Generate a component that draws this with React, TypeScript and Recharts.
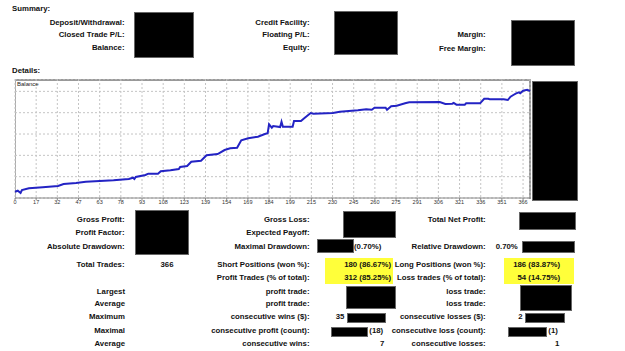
import { LineChart, Line, XAxis, YAxis, CartesianGrid } from 'recharts';

// balance curve (trade #, balance)
const trades = [0, 2, 4, 5, 10, 20, 31, 35, 44, 51, 61, 71, 82, 85, 86, 87, 94, 96, 103, 105, 112, 118, 119, 124, 127, 134, 138, 146, 151, 155, 160, 163, 168, 175, 180, 182, 183, 185, 186, 191, 192, 193, 200, 201, 206, 209, 213, 215, 229, 234, 247, 253, 257, 259, 267, 268, 271, 275, 281, 284, 306, 310, 315, 316, 318, 324, 325, 335, 338, 341, 342, 352, 355, 357, 359, 361, 363, 364, 366, 369, 370, 371];
const balance = [9295, 9342, 9234, 9375, 9455, 9502, 9563, 9656, 9703, 9764, 9797, 9830, 9891, 9952, 9890, 9984, 10078, 10139, 10139, 10252, 10299, 10360, 10453, 10500, 10702, 10749, 11002, 11063, 11250, 11330, 11358, 11705, 11799, 11874, 12000, 12033, 12455, 12296, 12375, 12328, 12577, 12343, 12343, 12610, 12610, 12774, 12985, 12952, 12985, 13046, 13111, 13158, 13140, 13233, 13233, 13140, 13299, 13327, 13440, 13486, 13500, 13407, 13421, 13454, 13374, 13374, 13440, 13440, 13655, 13655, 13627, 13627, 13594, 13749, 13829, 13908, 13955, 13908, 14030, 14077, 14049, 14016];

const xTickLabels = ['0', '17', '32', '47', '63', '78', '93', '108', '123', '139', '154', '169', '184', '199', '215', '230', '245', '260', '275', '291', '306', '321', '336', '351', '366'];
const yGridTicks = [10000, 11000, 12000, 13000, 14000];

const summaryLeft = ['Deposit/Withdrawal:', 'Closed Trade P/L:', 'Balance:'];
const summaryMid = ['Credit Facility:', 'Floating P/L:', 'Equity:'];
const summaryRight = ['Margin:', 'Free Margin:'];

const data = trades.map((t, i) => ({ trade: t, balance: balance[i] }));
const xTicks = xTickLabels.map((_, i) => i * 15.25);

const font = "'Liberation Sans', Arial, sans-serif";

function T({ x, y, text, align = 'right', bold = true }: { x: number; y: number; text: string; align?: string; bold?: boolean }) {
  const style: any = {
    position: 'absolute',
    top: y - 5,
    height: 10,
    lineHeight: '10px',
    fontSize: 7.8,
    fontWeight: bold ? 700 : 400,
    color: '#111',
    whiteSpace: 'nowrap',
  };
  if (align === 'right') style.right = 625 - x;
  else if (align === 'center') { style.left = x - 30; style.width = 60; style.textAlign = 'center'; }
  else style.left = x;
  return <div style={style}>{text}</div>;
}

function Box({ x1, y1, x2, y2, color = '#000' }: { x1: number; y1: number; x2: number; y2: number; color?: string }) {
  return (
    <div
      style={{
        position: 'absolute',
        left: x1,
        top: y1,
        width: x2 - x1,
        height: y2 - y1,
        background: color,
        border: color === '#000' ? '1px solid #666' : 'none',
        boxSizing: 'border-box',
      }}
    />
  );
}

export default function App() {
  return (
    <div style={{ position: 'absolute', left: 0, top: 0, width: 625, height: 351, background: '#fff', fontFamily: font, overflow: 'hidden' }}>
      <T x={12} y={9} text="Summary:" align="left" />
      {summaryLeft.map((s, i) => <T key={s} x={124.5} y={[22.7, 34.7, 48.3][i]} text={s} />)}
      {summaryMid.map((s, i) => <T key={s} x={309.5} y={[22.7, 34.7, 48.3][i]} text={s} />)}
      {summaryRight.map((s, i) => <T key={s} x={485.7} y={[35.3, 49][i]} text={s} />)}
      <Box x1={134} y1={11.5} x2={194} y2={57.5} />
      <Box x1={334} y1={10.5} x2={397.5} y2={55} />
      <Box x1={511} y1={20} x2={574.5} y2={66} />
      <T x={12} y={71} text="Details:" align="left" />

      {/* chart frame */}
      <div style={{ position: 'absolute', left: 15, top: 79, width: 516, height: 120, borderTop: '2px solid #999', borderLeft: '1px solid #aaa', borderRight: '2px solid #999', boxSizing: 'border-box' }} />
      <div style={{ position: 'absolute', left: 0, top: 79 }}>
        <LineChart width={540} height={131} data={data} margin={{ top: 0, right: 10, left: 15, bottom: 0 }}>
          <CartesianGrid stroke="#c4c4c4" strokeDasharray="2 2" />
          <XAxis
            dataKey="trade"
            type="number"
            domain={[0, 371]}
            ticks={xTicks}
            interval={0}
            tickFormatter={(v: number, i: number) => xTickLabels[i]}
            tick={{ fontSize: 5.5, fill: '#333', fontFamily: font }}
            tickSize={2}
            tickMargin={0}
            height={12}
            stroke="#888"
          />
          <YAxis hide type="number" domain={[9000, 14580]} ticks={yGridTicks} interval={0} />
          <Line dataKey="balance" type="linear" stroke="#2323c4" strokeWidth={2} dot={false} isAnimationActive={false} />
        </LineChart>
      </div>
      <div style={{ position: 'absolute', left: 17, top: 81, fontSize: 6, color: '#222', fontFamily: font }}>Balance</div>
      <Box x1={532} y1={81} x2={578} y2={201} />

      <T x={124.5} y={220.3} text="Gross Profit:" />
      <T x={124.5} y={233.3} text="Profit Factor:" />
      <T x={124.5} y={246.7} text="Absolute Drawdown:" />
      <Box x1={134.5} y1={209.5} x2={189} y2={255} />
      <T x={309.5} y={220.3} text="Gross Loss:" />
      <T x={309.5} y={233.3} text="Expected Payoff:" />
      <T x={309.5} y={246.7} text="Maximal Drawdown:" />
      <Box x1={343} y1={211} x2={396} y2={237.5} />
      <Box x1={317} y1={239.3} x2={353.5} y2={253} />
      <T x={354} y={246.7} text="(0.70%)" align="left" />
      <T x={485.7} y={220.3} text="Total Net Profit:" />
      <Box x1={519} y1={211.5} x2={576} y2={229.5} />
      <T x={485.7} y={246.7} text="Relative Drawdown:" />
      <T x={495.7} y={246.7} text="0.70%" align="left" />
      <Box x1={521.5} y1={240.5} x2={574.5} y2={253} />

      <T x={124.5} y={265} text="Total Trades:" />
      <T x={167} y={265} text="366" align="center" />
      <Box x1={325} y1={258.3} x2={393} y2={284} color="#ffff3a" />
      <Box x1={504} y1={258.3} x2={574} y2={284} color="#ffff3a" />
      <T x={309.5} y={265} text="Short Positions (won %):" />
      <T x={309.5} y={278.3} text="Profit Trades (% of total):" />
      <T x={391} y={265} text="180 (86.67%)" />
      <T x={391} y={278.3} text="312 (85.25%)" />
      <T x={485.7} y={265} text="Long Positions (won %):" />
      <T x={485.7} y={278.3} text="Loss trades (% of total):" />
      <T x={560} y={265} text="186 (83.87%)" />
      <T x={560} y={278.3} text="54 (14.75%)" />

      <T x={125} y={291.7} text="Largest" />
      <T x={125} y={304} text="Average" />
      <T x={125} y={317.3} text="Maximum" />
      <T x={125} y={330.7} text="Maximal" />
      <T x={125} y={344} text="Average" />
      <T x={309.5} y={291.7} text="profit trade:" />
      <T x={309.5} y={304} text="profit trade:" />
      <T x={309.5} y={317.3} text="consecutive wins ($):" />
      <T x={309.5} y={330.7} text="consecutive profit (count):" />
      <T x={309.5} y={344} text="consecutive wins:" />
      <Box x1={345.5} y1={286} x2={396} y2={309} />
      <T x={344.3} y={317.3} text="35" />
      <Box x1={346.5} y1={313.3} x2={386} y2={323} />
      <Box x1={331} y1={326.7} x2={368} y2={337.5} />
      <T x={369.3} y={330.7} text="(18)" align="left" />
      <T x={384.3} y={344} text="7" />

      <T x={485.7} y={291.7} text="loss trade:" />
      <T x={485.7} y={304} text="loss trade:" />
      <T x={485.7} y={317.3} text="consecutive losses ($):" />
      <T x={485.7} y={330.7} text="consecutive loss (count):" />
      <T x={485.7} y={344} text="consecutive losses:" />
      <Box x1={520} y1={285} x2={572} y2={311} />
      <T x={522.7} y={317.3} text="2" />
      <Box x1={525} y1={313.3} x2={565} y2={323} />
      <Box x1={508.3} y1={326.7} x2={547.5} y2={337.5} />
      <T x={548.3} y={330.7} text="(1)" align="left" />
      <T x={559.3} y={344} text="1" />
    </div>
  );
}
